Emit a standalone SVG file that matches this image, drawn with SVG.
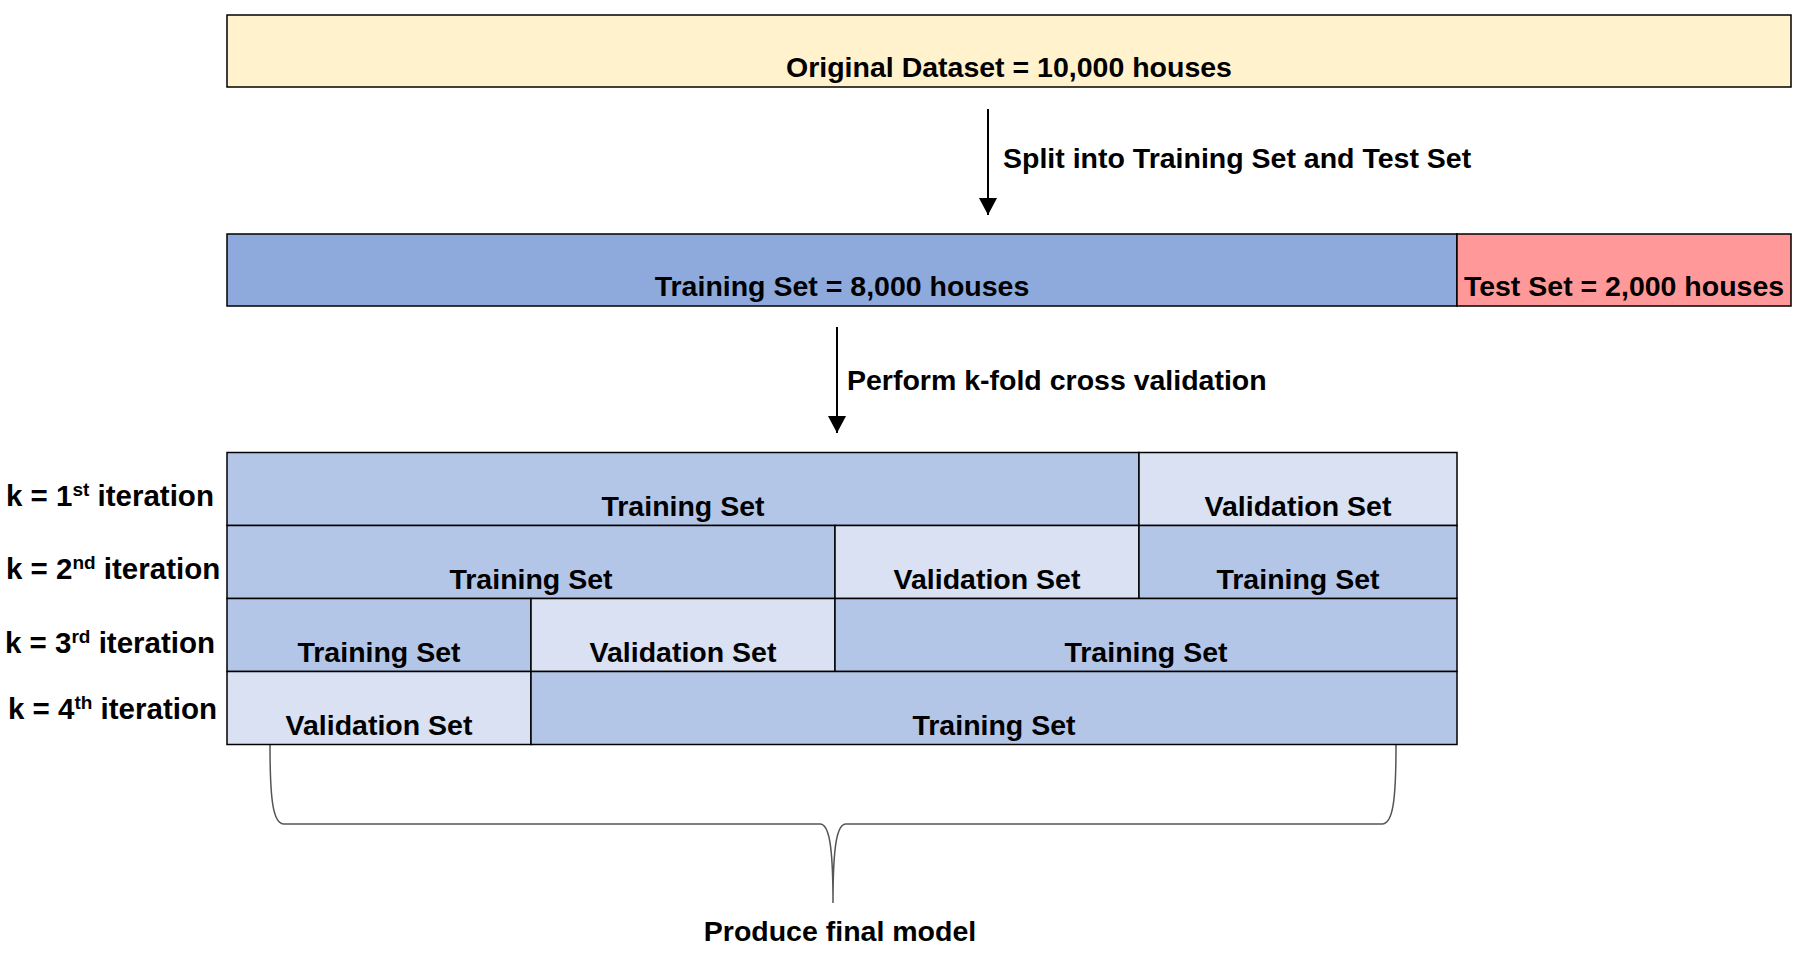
<svg xmlns="http://www.w3.org/2000/svg" width="1805" height="954" viewBox="0 0 1805 954">
<defs>
<style>
text{font-family:"Liberation Sans",Arial,sans-serif;font-weight:bold;font-size:28.5px;fill:#000}
.c{text-anchor:middle}
.lbl{font-size:29.5px}
.box{stroke:#000;stroke-width:1.5}
.orig{fill:#FFF2CC}
.trainbig{fill:#8EA9DB}
.test{fill:#FF9999}
.tr{fill:#B4C6E7}
.va{fill:#D9E1F2}
.sup{font-size:19px}
</style>
<marker id="ah" markerWidth="18" markerHeight="18" refX="17" refY="9" orient="auto" markerUnits="userSpaceOnUse"><path d="M0,0 L17,9 L0,18 z" fill="#000"/></marker>
</defs>
<rect width="1805" height="954" fill="#fff"/>

<g id="original">
<rect class="box orig" x="227" y="15" width="1564" height="72"/>
<text class="c" x="1009" y="77">Original Dataset = 10,000 houses</text>
</g>

<g id="training-set">
<rect class="box trainbig" x="227" y="234" width="1230" height="72"/>
<text class="c" x="842" y="296">Training Set = 8,000 houses</text>
</g>
<g id="test-set">
<rect class="box test" x="1457" y="234" width="334" height="72"/>
<text class="c" x="1624" y="296">Test Set = 2,000 houses</text>
</g>

<g id="connectors" stroke="#000" fill="none">
<line x1="988" y1="109" x2="988" y2="215" stroke-width="2" marker-end="url(#ah)"/>
<line x1="837" y1="327" x2="837" y2="433" stroke-width="2" marker-end="url(#ah)"/>
<path id="brace" d="M270,745 C270,800 273,824 284,824 L820,824 C829,824 833,845 833,903 C833,845 837,824 846,824 L1382,824 C1393,824 1396,800 1396,745" stroke="#555" stroke-width="1.5"/>
</g>

<g id="edge-labels">
<text x="1003" y="168">Split into Training Set and Test Set</text>
<text x="847" y="390">Perform k-fold cross validation</text>
</g>

<g id="row-labels">
<text class="lbl" x="6" y="506">k = 1<tspan class="sup" dy="-10">st</tspan><tspan dy="10"> iteration</tspan></text>
<text class="lbl" x="6" y="579">k = 2<tspan class="sup" dy="-10">nd</tspan><tspan dy="10"> iteration</tspan></text>
<text class="lbl" x="5" y="653">k = 3<tspan class="sup" dy="-10">rd</tspan><tspan dy="10"> iteration</tspan></text>
<text class="lbl" x="8" y="719">k = 4<tspan class="sup" dy="-10">th</tspan><tspan dy="10"> iteration</tspan></text>
</g>

<g id="iter1">
<rect class="box tr" x="227" y="452.5" width="912" height="73"/>
<text class="c" x="683" y="516">Training Set</text>
<rect class="box va" x="1139" y="452.5" width="318" height="73"/>
<text class="c" x="1298" y="516">Validation Set</text>
</g>
<g id="iter2">
<rect class="box tr" x="227" y="525.5" width="608" height="73"/>
<text class="c" x="531" y="589">Training Set</text>
<rect class="box va" x="835" y="525.5" width="304" height="73"/>
<text class="c" x="987" y="589">Validation Set</text>
<rect class="box tr" x="1139" y="525.5" width="318" height="73"/>
<text class="c" x="1298" y="589">Training Set</text>
</g>
<g id="iter3">
<rect class="box tr" x="227" y="598.5" width="304" height="73"/>
<text class="c" x="379" y="662">Training Set</text>
<rect class="box va" x="531" y="598.5" width="304" height="73"/>
<text class="c" x="683" y="662">Validation Set</text>
<rect class="box tr" x="835" y="598.5" width="622" height="73"/>
<text class="c" x="1146" y="662">Training Set</text>
</g>
<g id="iter4">
<rect class="box va" x="227" y="671.5" width="304" height="73"/>
<text class="c" x="379" y="735">Validation Set</text>
<rect class="box tr" x="531" y="671.5" width="926" height="73"/>
<text class="c" x="994" y="735">Training Set</text>
</g>

<g id="final-model">
<text class="c" x="840" y="941">Produce final model</text>
</g>
</svg>
